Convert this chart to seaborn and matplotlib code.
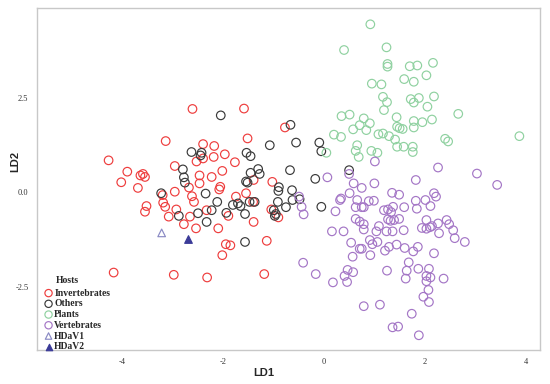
import pandas as pd
import seaborn as sns
import matplotlib.pyplot as plt
from matplotlib.ticker import FormatStrFormatter

# LD scores, one pair of lists per host group
inv_ld1 = [-3.13, -4.26, -3.89, -4.01, -3.63, -3.58, -3.54, -3.68, -2.95, -2.95,
           -2.60, -1.58, -0.77, -1.51, -2.39, -2.17, -1.96, -2.18, -1.76, -2.39,
           -2.52, -2.01, -2.46, -2.22, -2.46, -2.67, -2.05, -2.07, -1.39, -1.02,
           -1.54, -1.74, -2.61, -2.57, -2.92, -3.07, -2.77, -2.53, -2.65, -2.09,
           -1.89, -1.40, -1.39, -1.94, -1.85, -2.01, -1.13, -1.04, -0.90, -2.97,
           -2.31, -1.18, -3.51, -3.54, -3.18, -3.14, -3.19, -4.16, -2.32]
inv_ld2 = [1.35, 0.84, 0.54, 0.26, 0.44, 0.48, 0.40, 0.11, 0.69, 0.01,
           2.20, 2.21, 1.71, 1.42, 1.27, 1.22, 1.00, 0.93, 0.79, 0.89,
           0.81, 0.56, 0.44, 0.40, 0.23, 0.12, 0.14, 0.07, 0.32, 0.27,
           -0.03, -0.12, -0.11, -0.26, -0.46, -0.65, -0.85, -0.96, -0.65, -0.96,
           -0.63, -0.26, -0.79, -1.38, -1.41, -1.67, -1.29, -0.46, -0.67, -2.19,
           -2.26, -2.17, -0.37, -0.52, -0.28, -0.39, -0.08, -2.13, -0.48]

oth_ld1 = [-2.04, -0.66, -0.55, -1.07, -0.09, -0.05, -2.62, -2.42, -2.44, -1.53,
           -1.45, -2.79, -2.77, -2.75, -1.45, -1.30, -1.27, -1.54, -1.51, -0.67,
           -0.17, -0.89, -0.63, -2.34, -2.11, -2.87, -2.49, -2.22, -2.32, -1.93,
           -1.80, -1.70, -1.65, -1.56, -1.47, -1.37, -0.91, -0.75, -0.99, -0.95,
           -0.97, -0.62, -0.05, -1.56, -0.90, -3.22, 0.50, -0.48]
oth_ld2 = [2.03, 1.78, 1.31, 1.24, 1.31, 1.08, 1.06, 1.04, 0.97, 1.04,
           0.95, 0.60, 0.39, 0.25, 0.51, 0.61, 0.48, 0.28, 0.25, 0.58,
           0.35, 0.13, 0.05, -0.04, -0.26, -0.63, -0.56, -0.48, -0.79, -0.55,
           -0.34, -0.30, -0.37, -0.58, -0.26, -0.26, -0.26, -0.40, -0.48, -0.58,
           -0.63, -0.21, -0.39, -1.32, 0.03, -0.03, 0.58, -0.19]

pla_ld1 = [0.92, 0.40, 1.24, 1.26, 1.26, 1.70, 1.85, 2.16, 1.59, 1.78,
           2.03, 0.95, 1.14, 1.17, 1.25, 1.19, 1.72, 1.78, 1.88, 2.18,
           2.05, 2.66, 1.44, 0.35, 0.51, 0.79, 0.71, 0.91, 0.58, 0.84,
           1.45, 1.50, 1.56, 1.78, 1.78, 1.95, 2.14, 0.20, 0.34, 1.08,
           1.17, 1.29, 1.41, 0.66, 0.63, 0.69, 0.94, 1.06, 1.45, 1.58,
           1.76, 1.76, 2.40, 2.46, 3.87, 0.05]
pla_ld2 = [4.44, 3.76, 3.83, 3.39, 3.32, 3.33, 3.35, 3.42, 2.99, 2.92,
           3.09, 2.87, 2.85, 2.52, 2.38, 2.17, 2.46, 2.37, 2.49, 2.53,
           2.26, 2.07, 1.98, 2.01, 2.05, 1.95, 1.77, 1.82, 1.66, 1.64,
           1.73, 1.69, 1.67, 1.88, 1.71, 1.85, 1.92, 1.52, 1.46, 1.53,
           1.55, 1.48, 1.39, 1.24, 1.09, 0.93, 1.09, 1.04, 1.20, 1.20,
           1.20, 1.06, 1.41, 1.34, 1.48, 1.04]

ver_ld1 = [1.01, 2.26, 3.03, 3.43, 0.07, 0.50, 0.59, 0.75, 1.00, 1.82,
           0.34, 0.32, 0.51, 0.66, 0.89, 0.99, 1.35, 1.49, 2.18, 2.22,
           1.82, 2.01, 0.23, 0.63, 0.75, 0.79, 1.19, 1.27, 1.33, 1.37,
           1.59, 1.84, 2.11, 0.63, 0.71, 0.79, 0.79, 1.27, 1.32, 1.39,
           1.49, 1.09, 1.04, 1.24, 1.36, 1.58, 2.03, 1.94, 2.03, 2.10,
           2.14, 2.26, 2.43, 2.48, 2.56, 2.28, 2.59, 2.79, 0.16, 0.39,
           0.54, 0.75, 0.71, 0.91, 0.96, 1.06, 1.29, 1.44, 1.60, 1.77,
           1.86, 1.21, 0.92, 0.57, 2.18, 1.68, 1.64, 1.62, 1.87, 2.08,
           2.03, 2.11, 2.03, 2.37, 2.07, 1.97, 2.08, 1.25, -0.41, -0.16,
           0.18, 0.41, 0.47, 0.58, 0.46, 0.79, 1.11, 1.74, 1.36, 1.47,
           1.88, -0.49, -0.44, -0.40]
ver_ld2 = [0.81, 0.65, 0.49, 0.19, 0.39, 0.48, 0.23, 0.11, 0.23, 0.32,
           -0.17, -0.21, -0.03, -0.21, -0.24, -0.23, -0.02, -0.07, -0.03, -0.12,
           -0.23, -0.21, -0.51, -0.40, -0.40, -0.40, -0.48, -0.46, -0.53, -0.39,
           -0.40, -0.44, -0.37, -0.71, -0.78, -0.85, -0.99, -0.72, -0.76, -0.74,
           -0.71, -0.90, -1.04, -1.04, -1.04, -1.01, -0.74, -0.95, -0.97, -0.93,
           -0.90, -0.83, -0.74, -0.85, -1.01, -1.09, -1.22, -1.32, -1.04, -1.04,
           -1.34, -1.50, -1.50, -1.27, -1.38, -1.32, -1.45, -1.39, -1.48, -1.57,
           -1.45, -1.55, -1.67, -1.71, -1.62, -1.86, -2.08, -2.29, -2.03, -2.03,
           -2.22, -2.26, -2.36, -2.29, -2.59, -2.77, -2.91, -2.08, -1.87, -2.17,
           -2.39, -2.22, -2.06, -2.12, -2.38, -3.02, -2.98, -3.22, -3.58, -3.56,
           -3.79, -0.12, -0.39, -0.59]

hdav1_ld1, hdav1_ld2 = [-3.21], [-1.08]
hdav2_ld1, hdav2_ld2 = [-2.69], [-1.23]

hosts = ['Invertebrates', 'Others', 'Plants', 'Vertebrates', 'HDaV1', 'HDaV2']
host_colors = ['#ee3d3d', '#3a3a3a', '#8fd1a0', '#a476c6', '#8a8ac4', '#3b3b98']
host_markers = ['o', 'o', 'o', 'o', '^', '^']
host_filled = [False, False, False, False, False, True]

groups = [(inv_ld1, inv_ld2), (oth_ld1, oth_ld2), (pla_ld1, pla_ld2),
          (ver_ld1, ver_ld2), (hdav1_ld1, hdav1_ld2), (hdav2_ld1, hdav2_ld2)]
df = pd.concat([pd.DataFrame({'LD1': a, 'LD2': b, 'Hosts': h})
                for (a, b), h in zip(groups, hosts)], ignore_index=True)

sns.set_style('white')
plt.rcParams['font.family'] = ['Liberation Serif', 'DejaVu Serif']
plt.rcParams['axes.unicode_minus'] = False

fig = plt.figure(figsize=(5.5, 3.84), dpi=100)
ax = fig.add_axes([0.067, 0.0885, 0.915, 0.8905])

for name, col, mk, filled in zip(hosts, host_colors, host_markers, host_filled):
    sub = df[df['Hosts'] == name]
    sns.scatterplot(data=sub, x='LD1', y='LD2', ax=ax, marker=mk, s=38 if mk == 'o' else 30,
                    color=col, facecolor=col if filled else 'none', edgecolor=col,
                    linewidth=0.85, label=name, legend=False)

ax.set_xlim(-5.68, 4.28)
ax.set_ylim(-4.18, 4.87)
ax.set_xticks([-4, -2, 0, 2, 4])
ax.set_yticks([-2.5, 0.0, 2.5])
ax.xaxis.set_major_formatter(FormatStrFormatter('%d'))
ax.yaxis.set_major_formatter(FormatStrFormatter('%.1f'))
ax.tick_params(axis='x', direction='out', length=2.5, width=1, color='#444444',
               labelsize=6, labelcolor='#333333', pad=3)
ax.tick_params(axis='y', direction='in', length=2, width=1, color='#444444',
               labelsize=6, labelcolor='#333333', pad=6)
for sp in ax.spines.values():
    sp.set_visible(True)
    sp.set_color('#c8c8c8')
    sp.set_linewidth(1)

ax.set_xlabel('LD1', fontfamily='Liberation Sans', fontweight='bold', fontsize=8)
ax.set_ylabel('LD2', fontfamily='Liberation Sans', fontweight='bold', fontsize=8)
ax.xaxis.set_label_coords(0.45, -0.053)
ax.yaxis.set_label_coords(-0.032, 0.552)

leg = ax.legend(loc='lower left', bbox_to_anchor=(0.008, -0.012), frameon=False,
                prop={'family': 'Liberation Serif', 'weight': 'bold', 'size': 6.9},
                handlelength=1.0, handletextpad=0.1, borderaxespad=0, borderpad=0.3,
                labelspacing=0.18, markerscale=0.85)
ax.text(0.038, 0.197, 'Hosts', transform=ax.transAxes, fontfamily='Liberation Serif',
        fontweight='bold', fontsize=6.9, va='baseline', ha='left')

fig.savefig('out.png', dpi=100)
